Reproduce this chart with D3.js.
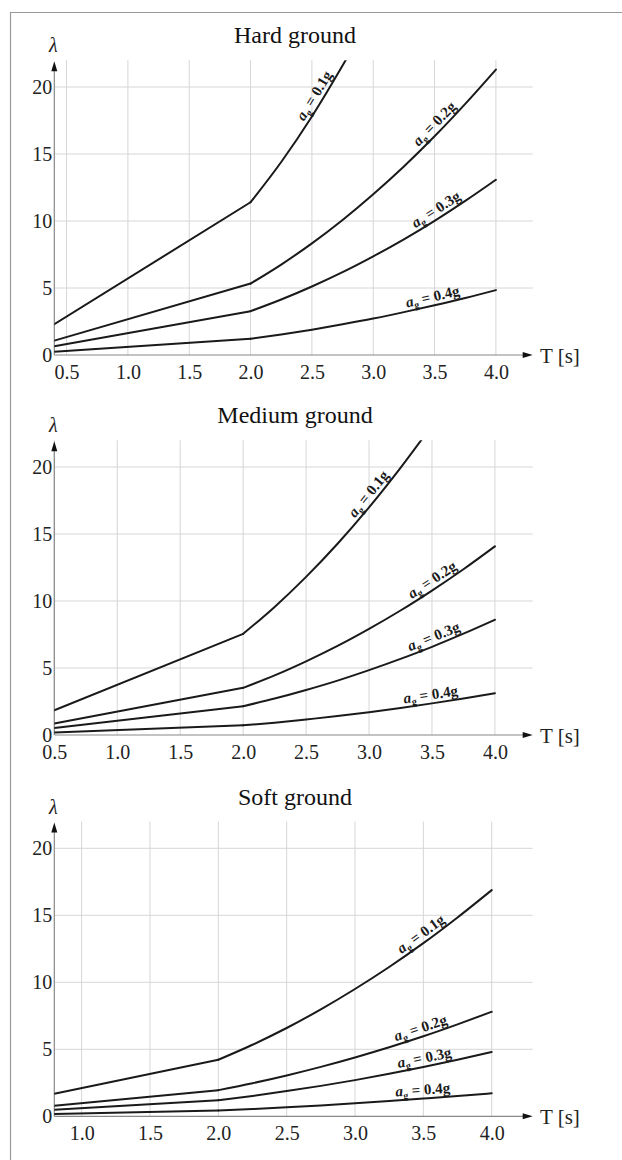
<!DOCTYPE html>
<html>
<head>
<meta charset="utf-8">
<script src="https://cdn.jsdelivr.net/npm/d3@7"></script>
<style>
  body { margin:0; padding:0; background:#fff; }
  svg, svg text { font-family:"Liberation Serif","Times New Roman",Times,"DejaVu Serif",serif; }
</style>
</head>
<body>
<div id="chart"></div>
<script>
// ground acceleration labels (one curve per value)
const accel = ["0.1g", "0.2g", "0.3g", "0.4g"];
const yTicks = [0, 5, 10, 15, 20];

// Hard ground
const periodsHard = [0.4, 2.0, 2.25, 2.5, 2.75, 3.0, 3.25, 3.5, 3.75, 4.0];
const hard01 = [2.3, 11.4, 14.4, 17.8, 21.6, 25.7];
const hard02 = [1.07, 5.33, 6.75, 8.33, 10.08, 12.0, 14.07, 16.32, 18.74, 21.3];
const hard03 = [0.65, 3.27, 4.14, 5.11, 6.18, 7.36, 8.63, 10.01, 11.5, 13.08];
const hard04 = [0.24, 1.21, 1.53, 1.89, 2.29, 2.72, 3.2, 3.71, 4.25, 4.84];
const ticksHard = [0.5, 1.0, 1.5, 2.0, 2.5, 3.0, 3.5, 4.0];

// Medium ground
const periodsMedium = [0.5, 2.0, 2.25, 2.5, 2.75, 3.0, 3.25, 3.5, 3.75, 4.0];
const medium01 = [1.85, 7.55, 9.56, 11.8, 14.27, 16.99, 19.94, 23.1];
const medium02 = [0.86, 3.52, 4.45, 5.5, 6.65, 7.92, 9.29, 10.78, 12.37, 14.08];
const medium03 = [0.53, 2.15, 2.72, 3.36, 4.06, 4.84, 5.68, 6.58, 7.56, 8.6];
const medium04 = [0.18, 0.72, 0.92, 1.16, 1.41, 1.70, 2.02, 2.36, 2.73, 3.12];
const ticksMedium = [0.5, 1.0, 1.5, 2.0, 2.5, 3.0, 3.5, 4.0];

// Soft ground
const periodsSoft = [0.8, 2.0, 2.25, 2.5, 2.75, 3.0, 3.25, 3.5, 3.75, 4.0];
const soft01 = [1.69, 4.22, 5.34, 6.59, 7.98, 9.5, 11.14, 12.92, 14.84, 16.88];
const soft02 = [0.78, 1.95, 2.47, 3.05, 3.69, 4.39, 5.15, 5.97, 6.86, 7.8];
const soft03 = [0.48, 1.2, 1.52, 1.88, 2.27, 2.7, 3.17, 3.68, 4.22, 4.8];
const soft04 = [0.17, 0.43, 0.54, 0.67, 0.81, 0.97, 1.14, 1.32, 1.51, 1.72];
const ticksSoft = [1.0, 1.5, 2.0, 2.5, 3.0, 3.5, 4.0];

// where along T each curve label sits
const labelHard = [2.58, 3.55, 3.55, 3.5];
const labelMedium = [3.05, 3.54, 3.54, 3.5];
const labelSoft = [3.52, 3.5, 3.52, 3.5];

const serif = "Liberation Serif, Times New Roman, DejaVu Serif, serif";
const width = 622, height = 1160;
const left = 54.3, right = 532.7;
const yMax = 22, xMax = 4.3;

const panels = [
  { title: "Hard ground", bottom: 355, xMin: 0.4, T: periodsHard, ticks: ticksHard,
    lines: [hard01, hard02, hard03, hard04], labelAt: labelHard },
  { title: "Medium ground", bottom: 735, xMin: 0.5, T: periodsMedium, ticks: ticksMedium,
    lines: [medium01, medium02, medium03, medium04], labelAt: labelMedium },
  { title: "Soft ground", bottom: 1116.3, xMin: 0.8, T: periodsSoft, ticks: ticksSoft,
    lines: [soft01, soft02, soft03, soft04], labelAt: labelSoft }
];

const svg = d3.select("#chart").append("svg")
  .attr("width", width).attr("height", height)
  .attr("font-family", serif);

// frame
svg.append("path")
  .attr("d", "M10.5,1160 V12.5 H622")
  .attr("fill", "none").attr("stroke", "#999").attr("stroke-width", 1.2);

function interp(T, vals, t) {
  for (let i = 0; i < vals.length - 1; i++) {
    if (t >= T[i] && t <= T[i + 1]) {
      const f = (t - T[i]) / (T[i + 1] - T[i]);
      return vals[i] + f * (vals[i + 1] - vals[i]);
    }
  }
  return vals[vals.length - 1];
}

panels.forEach((p, pi) => {
  const x = d3.scaleLinear().domain([p.xMin, xMax]).range([left, right]);
  const y = d3.scaleLinear().domain([0, yMax]).range([p.bottom, p.bottom - yMax * 13.4]);
  const g = svg.append("g");
  const top = y(yMax);

  // grid
  g.append("g").selectAll("line").data(p.ticks).join("line")
    .attr("x1", d => x(d)).attr("x2", d => x(d))
    .attr("y1", top).attr("y2", y(0))
    .attr("stroke", "#d6d6d6").attr("stroke-width", 1);
  g.append("g").selectAll("line").data(yTicks.filter(d => d > 0)).join("line")
    .attr("x1", left).attr("x2", right)
    .attr("y1", d => y(d)).attr("y2", d => y(d))
    .attr("stroke", "#d6d6d6").attr("stroke-width", 1);

  // axes lines with arrows
  g.append("line").attr("x1", left).attr("x2", left)
    .attr("y1", y(0)).attr("y2", top + 6)
    .attr("stroke", "#888").attr("stroke-width", 1.2);
  g.append("path")
    .attr("d", `M${left},${top + 1} L${left - 3},${top + 11} L${left + 3},${top + 11} Z`)
    .attr("fill", "#111");
  g.append("line").attr("x1", left).attr("x2", right - 6)
    .attr("y1", y(0)).attr("y2", y(0))
    .attr("stroke", "#888").attr("stroke-width", 1.2);
  g.append("path")
    .attr("d", `M${right},${y(0)} L${right - 10},${y(0) - 3} L${right - 10},${y(0) + 3} Z`)
    .attr("fill", "#111");

  // tick labels
  const yAxis = g.append("g").attr("transform", `translate(${left},0)`)
    .call(d3.axisLeft(y).tickValues(yTicks).tickSize(0).tickPadding(2).tickFormat(d3.format("d")));
  yAxis.attr("font-family", serif).select(".domain").remove();
  yAxis.selectAll("text").attr("font-size", 20).attr("fill", "#222");

  const xAxis = g.append("g").attr("transform", `translate(0,${y(0)})`)
    .call(d3.axisBottom(x).tickValues(p.ticks).tickSize(0).tickPadding(10).tickFormat(d3.format(".1f")));
  xAxis.attr("font-family", serif).select(".domain").remove();
  xAxis.selectAll("text").attr("font-size", 20).attr("fill", "#222");

  // axis titles
  g.append("text").attr("x", left - 1).attr("y", top - 8)
    .attr("text-anchor", "middle").attr("font-size", 20).attr("font-style", "italic")
    .attr("fill", "#222").text("λ");
  g.append("text").attr("x", 540).attr("y", y(0) + 8)
    .attr("font-size", 21).attr("fill", "#222").text("T [s]");

  // panel title
  g.append("text").attr("x", 295).attr("y", top - 17)
    .attr("text-anchor", "middle").attr("font-size", 24).attr("fill", "#111")
    .text(p.title);

  // curves: straight up to T = 2.0, smooth beyond
  const clipId = "clip" + pi;
  g.append("clipPath").attr("id", clipId).append("rect")
    .attr("x", left).attr("y", top).attr("width", right - left).attr("height", y(0) - top);
  const straight = d3.line().x(d => x(d[0])).y(d => y(d[1]));
  const smooth = d3.line().curve(d3.curveMonotoneX).x(d => x(d[0])).y(d => y(d[1]));
  p.lines.forEach(vals => {
    const pts = vals.map((v, i) => [p.T[i], v]);
    const cg = g.append("g").attr("clip-path", `url(#${clipId})`)
      .attr("fill", "none").attr("stroke", "#1a1a1a").attr("stroke-width", 2)
      .attr("stroke-linejoin", "round").attr("stroke-linecap", "round");
    cg.append("path").attr("d", straight(pts.slice(0, 2)));
    cg.append("path").attr("d", smooth(pts.slice(1)));
  });

  // curve labels
  p.lines.forEach((vals, si) => {
    const t = p.labelAt[si];
    const T = p.T.slice(0, vals.length);
    const px = x(t), py = y(interp(T, vals, t));
    const x0 = x(t - 0.12), y0 = y(interp(T, vals, t - 0.12));
    const x1 = x(t + 0.12), y1 = y(interp(T, vals, t + 0.12));
    const ang = Math.atan2(y1 - y0, x1 - x0) * 180 / Math.PI;
    const txt = g.append("text")
      .attr("transform", `translate(${px},${py}) rotate(${ang})`)
      .attr("y", -4).attr("text-anchor", "middle")
      .attr("font-size", 15).attr("font-weight", "bold").attr("fill", "#1a1a1a");
    txt.append("tspan").attr("font-style", "italic").text("a");
    txt.append("tspan").attr("font-size", 10).attr("dy", 3).text("g");
    txt.append("tspan").attr("dy", -3).text(" = " + accel[si]);
  });
});
</script>
</body>
</html>
